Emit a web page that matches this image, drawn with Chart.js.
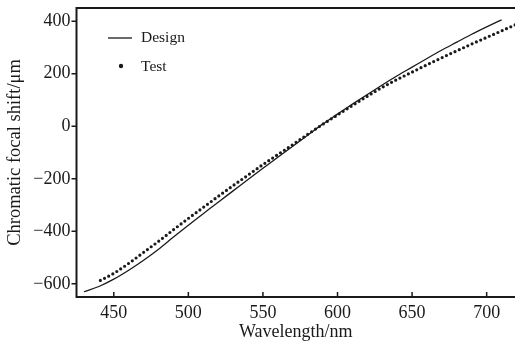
<!DOCTYPE html>
<html>
<head>
<meta charset="utf-8">
<script src="https://cdn.jsdelivr.net/npm/chart.js@4/dist/chart.umd.min.js"></script>
<style>
  html, body { margin: 0; padding: 0; background: #fff; }
  #wrap { width: 515px; height: 343px; }
</style>
</head>
<body>
<div id="wrap"><canvas id="grafico" width="515" height="343"></canvas></div>
<script>
// datos
var designWl = [430, 440, 450, 460, 470, 480, 490, 500, 510, 520, 530, 540, 550, 560, 570, 580, 590, 600, 610, 620, 630, 640, 650, 660, 670, 680, 690, 700, 710];
var designShift = [-630, -610, -582, -548, -510, -468, -422, -377, -333, -289, -246, -203, -160, -118, -76, -34, 8, 46, 84, 121, 157, 192, 225, 258, 290, 320, 350, 378, 405];
var testWl = [441, 450, 460, 470, 480, 490, 500, 510, 520, 530, 540, 550, 560, 570, 580, 590, 600, 610, 620, 630, 640, 650, 660, 670, 680, 690, 700, 710, 720];
var testShift = [-587, -560, -522, -480, -438, -394, -351, -309, -267, -226, -186, -146, -108, -70, -31, 7, 43, 79, 114, 148, 178, 206, 234, 261, 287, 313, 338, 363, 388];
var xTicks = [450, 500, 550, 600, 650, 700];
var yTicks = [-600, -400, -200, 0, 200, 400];

function pares(xs, ys) {
  var out = [];
  for (var i = 0; i < xs.length; i++) out.push({x: xs[i], y: ys[i]});
  return out;
}

var fuente = 'Liberation Serif, Times New Roman, serif';
var tinta = '#1a1a1a';

// marco, marcas de los ejes y leyenda
var marco = {
  id: 'marco',
  afterDraw: function(chart) {
    var ctx = chart.ctx;
    var a = chart.chartArea;
    var sx = chart.scales.x, sy = chart.scales.y;
    ctx.save();
    ctx.strokeStyle = tinta;
    ctx.lineWidth = 2;
    ctx.beginPath();
    ctx.moveTo(chart.width, a.top);
    ctx.lineTo(a.left, a.top);
    ctx.lineTo(a.left, a.bottom);
    ctx.lineTo(chart.width, a.bottom);
    ctx.stroke();
    ctx.lineWidth = 1.5;
    ctx.beginPath();
    xTicks.forEach(function(v) {
      var px = sx.getPixelForValue(v);
      ctx.moveTo(px, a.bottom);
      ctx.lineTo(px, a.bottom - 5);
    });
    yTicks.forEach(function(v) {
      var py = sy.getPixelForValue(v);
      ctx.moveTo(a.left, py);
      ctx.lineTo(a.left - 5, py);
    });
    ctx.stroke();

    // leyenda
    var ds = chart.data.datasets;
    ctx.font = '15.5px ' + fuente;
    ctx.fillStyle = tinta;
    ctx.textBaseline = 'middle';
    ctx.lineWidth = 1.3;
    ctx.beginPath();
    ctx.moveTo(108, 38);
    ctx.lineTo(132, 38);
    ctx.stroke();
    ctx.fillText(ds[0].label, 141, 38);
    ctx.beginPath();
    ctx.arc(121, 66, 2.2, 0, Math.PI * 2);
    ctx.fill();
    ctx.fillText(ds[1].label, 141, 67);
    ctx.restore();
  }
};

function sinRelleno(s) {
  s.paddingTop = 0;
  s.paddingBottom = 0;
  s.paddingLeft = 0;
  s.paddingRight = 0;
}

var chart = new Chart(document.getElementById('grafico'), {
  type: 'line',
  data: {
    datasets: [
      {
        label: 'Design',
        data: pares(designWl, designShift),
        borderColor: tinta,
        borderWidth: 1.3,
        pointRadius: 0,
        cubicInterpolationMode: 'monotone',
        fill: false
      },
      {
        label: 'Test',
        data: pares(testWl, testShift),
        borderColor: tinta,
        borderWidth: 3.2,
        borderDash: [0, 4.7],
        borderCapStyle: 'round',
        pointRadius: 0,
        cubicInterpolationMode: 'monotone',
        fill: false
      }
    ]
  },
  options: {
    responsive: false,
    animation: false,
    layout: { padding: { top: 8, right: 0, left: 0, bottom: 0 } },
    plugins: {
      legend: { display: false },
      tooltip: { enabled: false }
    },
    scales: {
      x: {
        type: 'linear',
        min: 425,
        max: 719,
        grid: { display: false, drawTicks: false },
        border: { display: false },
        afterFit: function(s) { s.height = 46; sinRelleno(s); },
        afterBuildTicks: function(s) { s.ticks = xTicks.map(function(v) { return {value: v}; }); },
        ticks: {
          padding: 5,
          color: tinta,
          font: { family: fuente, size: 18 },
          maxRotation: 0,
          callback: function(v) { return String(v); }
        },
        title: {
          display: true,
          text: 'Wavelength/nm',
          color: tinta,
          font: { family: fuente, size: 18 },
          padding: { top: 0, bottom: 0 }
        }
      },
      y: {
        type: 'linear',
        min: -650,
        max: 450,
        grid: { display: false, drawTicks: false },
        border: { display: false },
        afterFit: function(s) { s.width = 76.5; sinRelleno(s); },
        afterBuildTicks: function(s) { s.ticks = yTicks.map(function(v) { return {value: v}; }); },
        ticks: {
          padding: 6,
          color: tinta,
          font: { family: fuente, size: 18 },
          callback: function(v) { return String(v).replace('-', '\u2212'); }
        },
        title: {
          display: true,
          text: 'Chromatic focal shift/\u03bcm',
          color: tinta,
          font: { family: fuente, size: 18.5 },
          padding: { top: 4, bottom: 0 }
        }
      }
    }
  },
  plugins: [marco]
});
</script>
</body>
</html>
